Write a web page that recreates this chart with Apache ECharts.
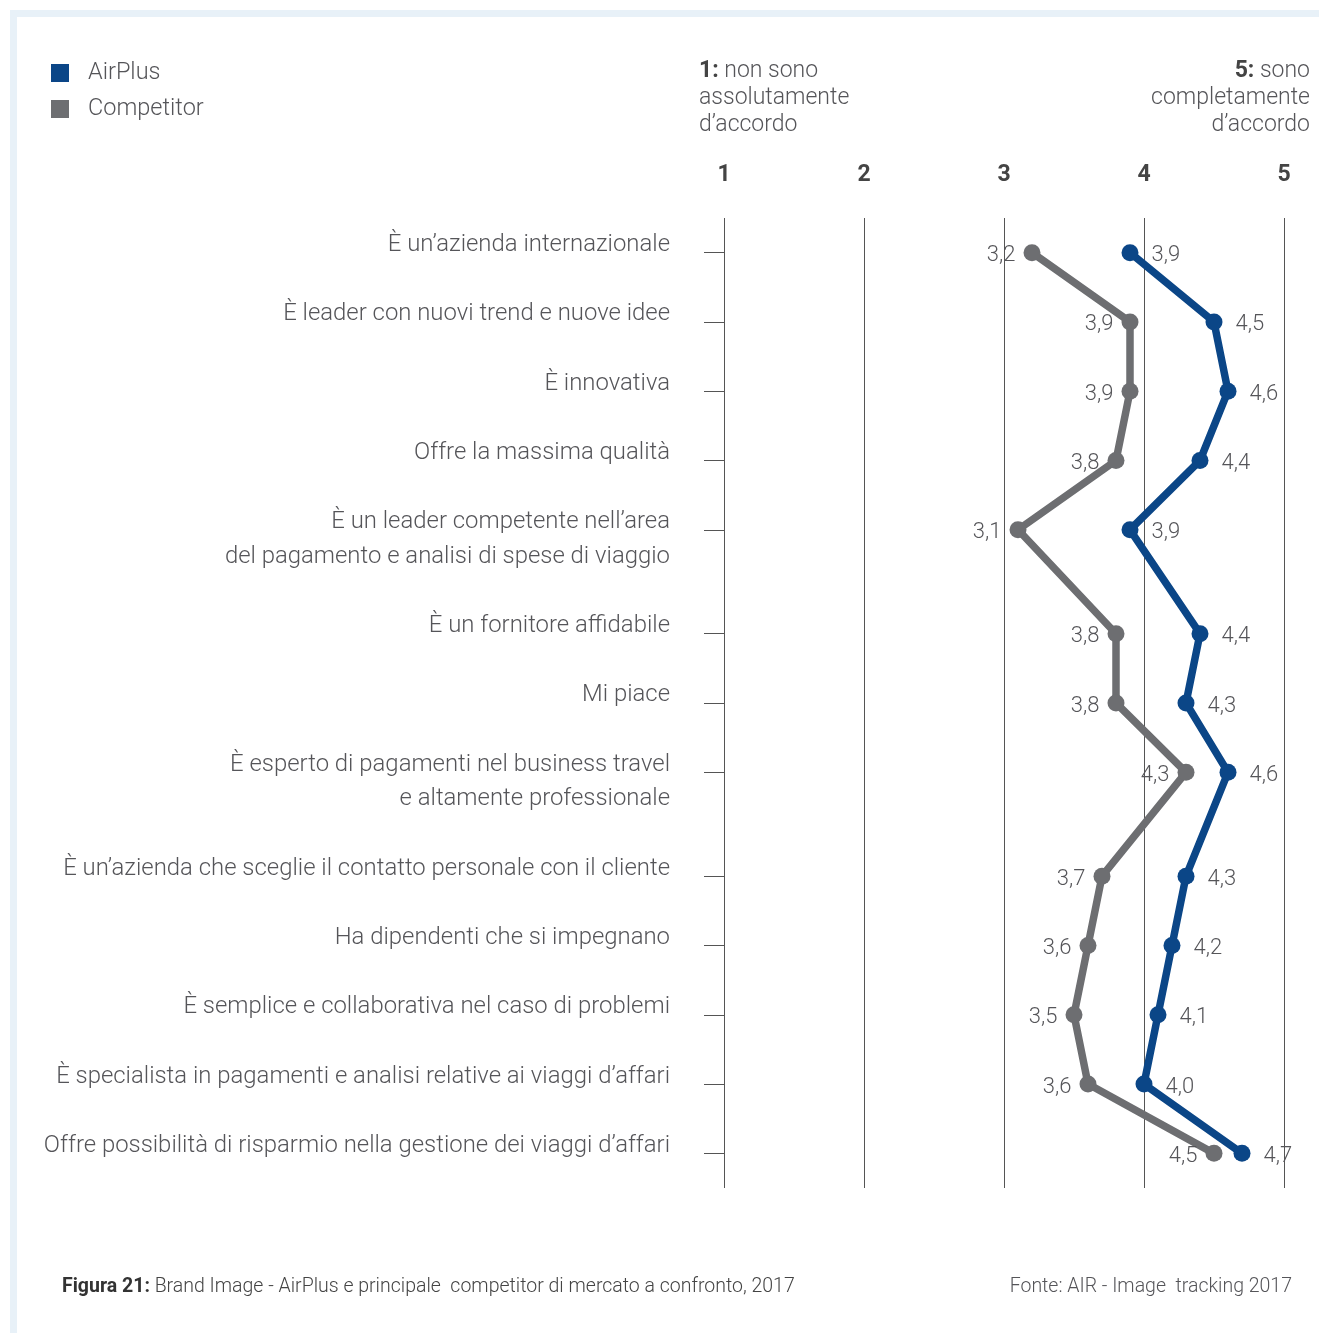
<!DOCTYPE html>
<html>
<head>
<meta charset="utf-8">
<script src="https://cdn.jsdelivr.net/npm/echarts@6/dist/echarts.min.js"></script>
<style>
  html, body { margin: 0; padding: 0; background: #fff; }
  #chart { width: 1319px; height: 1333px; }
</style>
</head>
<body>
<div id="chart"></div>
<script>
// affermazioni (\n = seconda riga dell'etichetta)
var statements = [
    'È un’azienda internazionale',
    'È leader con nuovi trend e nuove idee',
    'È innovativa',
    'Offre la massima qualità',
    'È un leader competente nell’area\ndel pagamento e analisi di spese di viaggio',
    'È un fornitore affidabile',
    'Mi piace',
    'È esperto di pagamenti nel business travel\ne altamente professionale',
    'È un’azienda che sceglie il contatto personale con il cliente',
    'Ha dipendenti che si impegnano',
    'È semplice e collaborativa nel caso di problemi',
    'È specialista in pagamenti e analisi relative ai viaggi d’affari',
    'Offre possibilità di risparmio nella gestione dei viaggi d’affari'
];
var airplus    = [3.9, 4.5, 4.6, 4.4, 3.9, 4.4, 4.3, 4.6, 4.3, 4.2, 4.1, 4.0, 4.7];
var competitor = [3.2, 3.9, 3.9, 3.8, 3.1, 3.8, 3.8, 4.3, 3.7, 3.6, 3.5, 3.6, 4.5];
var scaleTicks = [1, 2, 3, 4, 5];

var BLUE = '#0b4687';
var GREY = '#6d6e71';
var TXT = '#555559';

// asse categorie: una riga per ogni riga di testo + spazio vuoto tra le voci
var axisCats = [''];
var itemSlot = {};
var slotOf = [];
statements.forEach(function (s, i) {
    var lines = s.split('\n');
    itemSlot[axisCats.length] = true;
    slotOf[i] = axisCats.length;
    lines.forEach(function (l) { axisCats.push(l); });
    axisCats.push('');
});

function toSlots(values) {
    var out = axisCats.map(function () { return null; });
    values.forEach(function (v, i) { out[slotOf[i]] = v; });
    return out;
}
function fmt(p) {
    return p.value == null ? '' : p.value.toFixed(1).replace('.', ',');
}

var myChart = echarts.init(document.getElementById('chart'));
var option = {
    animation: false,
    textStyle: { fontFamily: 'Roboto', fontWeight: 300, color: TXT },
    legend: {
        orient: 'vertical',
        left: 46,
        top: 56,
        itemWidth: 18,
        itemHeight: 18,
        itemGap: 12,
        icon: 'rect',
        textStyle: { fontSize: 23.5, color: TXT, fontWeight: 300, padding: [0, 0, 0, 14] },
        data: ['AirPlus', 'Competitor']
    },
    grid: { left: 724, right: 35, top: 218, bottom: 145 },
    xAxis: {
        type: 'value',
        position: 'top',
        min: scaleTicks[0],
        max: scaleTicks[scaleTicks.length - 1],
        interval: 1,
        axisLine: { show: false },
        axisTick: { show: false },
        axisLabel: { margin: 31, fontSize: 23, fontWeight: 'bold', color: '#444' },
        splitLine: { show: true, lineStyle: { color: '#555', width: 1 } }
    },
    yAxis: {
        type: 'category',
        inverse: true,
        boundaryGap: false,
        data: axisCats,
        axisLine: { show: false },
        axisTick: {
            show: true,
            length: 20,
            interval: function (idx) { return !!itemSlot[idx]; },
            lineStyle: { color: '#555', width: 1 }
        },
        axisLabel: {
            interval: function (idx, val) { return val !== ''; },
            margin: 54,
            fontSize: 23.9,
            lineHeight: 15,
            fontWeight: 300,
            color: TXT,
            verticalAlign: 'bottom'
        }
    },
    series: [{
        name: 'AirPlus',
        type: 'line',
        data: toSlots(airplus),
        connectNulls: true,
        symbol: 'circle',
        symbolSize: 17,
        color: BLUE,
        lineStyle: { width: 7.5, color: BLUE },
        label: { show: true, position: 'right', distance: 13, offset: [0, 3], fontSize: 22, fontWeight: 300, color: TXT, formatter: fmt },
        z: 3
    }, {
        name: 'Competitor',
        type: 'line',
        data: toSlots(competitor),
        connectNulls: true,
        symbol: 'circle',
        symbolSize: 17,
        color: GREY,
        lineStyle: { width: 7.5, color: GREY },
        label: { show: true, position: 'left', distance: 8, offset: [0, 3], fontSize: 22, fontWeight: 300, color: TXT, formatter: fmt },
        z: 2
    }],
    graphic: [{
        type: 'rect',
        shape: { x: 13.5, y: 13.5, width: 1400, height: 1400 },
        style: { fill: 'none', stroke: '#e8f1f8', lineWidth: 7 },
        silent: true
    }, {
        type: 'text',
        left: 699,
        top: 58,
        style: {
            text: '{b|1:} non sono\nassolutamente\nd’accordo',
            font: '300 23px Roboto',
            fill: TXT,
            lineHeight: 27,
            rich: { b: { fontWeight: 'bold', fontSize: 23, fill: '#444', fontFamily: 'Roboto' } }
        }
    }, {
        type: 'text',
        x: 1310,
        y: 58,
        style: {
            text: '{b|5:} sono\ncompletamente\nd’accordo',
            font: '300 23px Roboto',
            fill: TXT,
            align: 'right',
            lineHeight: 27,
            rich: { b: { fontWeight: 'bold', fontSize: 23, fill: '#444', fontFamily: 'Roboto' } }
        }
    }, {
        type: 'text',
        left: 62,
        top: 1277,
        style: {
            text: '{b|Figura 21:} Brand Image - AirPlus e principale  competitor di mercato a confronto, 2017',
            font: '300 19.5px Roboto',
            fill: '#444',
            rich: { b: { fontWeight: 'bold', fontSize: 19.5, fill: '#333', fontFamily: 'Roboto' } }
        }
    }, {
        type: 'text',
        x: 1292,
        y: 1277,
        style: {
            text: 'Fonte: AIR - Image  tracking 2017',
            font: '300 19.5px Roboto',
            fill: TXT,
            align: 'right'
        }
    }]
};
myChart.setOption(option);
</script>
</body>
</html>
